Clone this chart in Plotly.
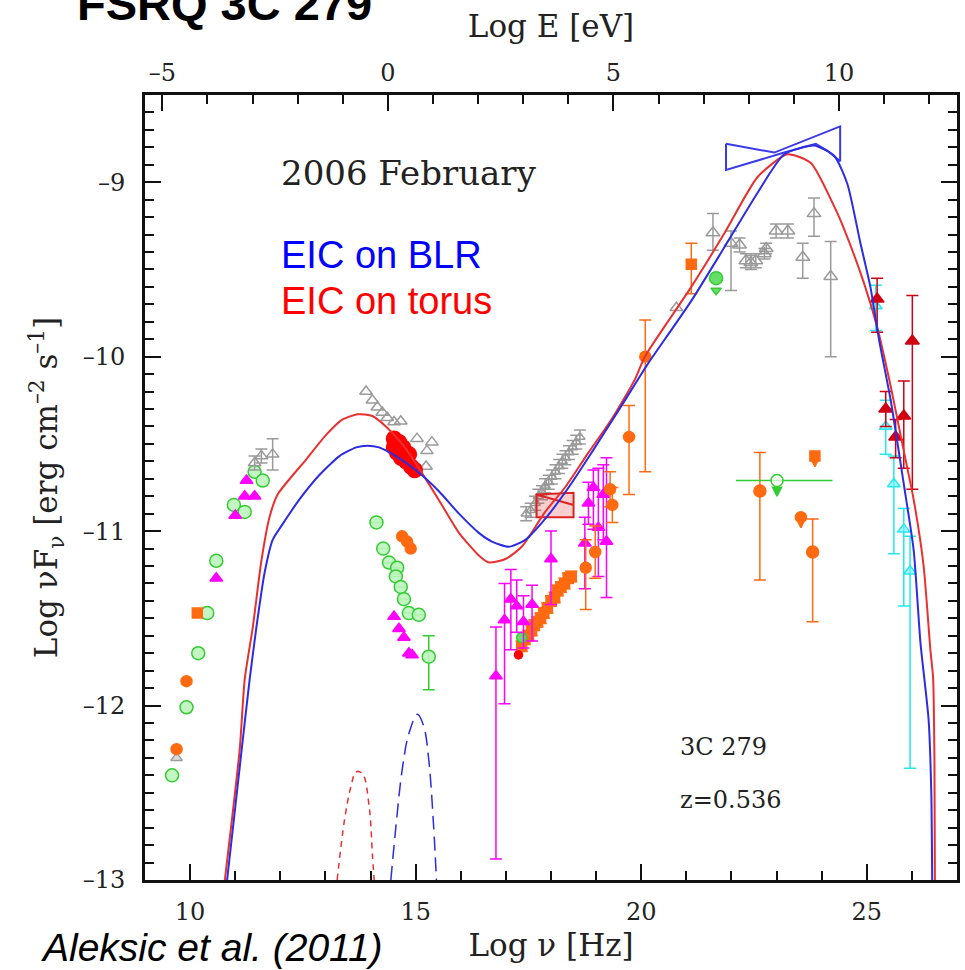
import plotly.graph_objects as go

# ---------------- data (log nu [Hz], log nuFnu [erg cm-2 s-1]) ----------------
# radio / mm / IR
radio_green_lv = [9.60, 9.92, 10.18, 10.38, 10.58, 10.97, 11.21, 11.43, 11.61]
radio_green_lf = [-12.40, -12.01, -11.70, -11.47, -11.17, -10.85, -10.89, -10.66, -10.71]
radio_orange_lv = [9.70, 9.92]
radio_orange_lf = [-12.25, -11.86]
radio_orange_sq_lv = [10.16]
radio_orange_sq_lf = [-11.47]
radio_gray_lv = [9.70]
radio_gray_lf = [-12.30]
ir_magenta_lv = [10.58, 11.00, 11.21, 11.43, 11.25]
ir_magenta_lf = [-11.27, -10.91, -10.80, -10.80, -10.71]
ir_gray_lv = [11.43, 11.58, 11.83]
ir_gray_lf = [-10.61, -10.57, -10.56]
ir_gray_err = [0.04, 0.04, 0.09]

# optical / UV
opt_gray_lv = [13.90, 14.04, 14.15, 14.26, 14.37, 14.52, 14.67, 15.03, 15.36, 15.25, 15.23]
opt_gray_lf = [-10.20, -10.25, -10.29, -10.32, -10.35, -10.375, -10.37, -10.47, -10.49, -10.54, -10.63]
opt_red_lv = [14.52, 14.63, 14.72, 14.59, 14.68, 14.79, 14.85, 14.90, 14.98, 14.52]
opt_red_lf = [-10.47, -10.49, -10.52, -10.55, -10.58, -10.60, -10.56, -10.63, -10.65, -10.52]
opt_green_lv = [14.13, 14.28, 14.41, 14.59, 14.56, 14.67, 14.74, 14.85, 15.07, 15.29]
opt_green_lf = [-10.95, -11.10, -11.18, -11.21, -11.26, -11.32, -11.39, -11.47, -11.48, -11.72]
opt_green_err_p = [0, 0, 0, 0, 0, 0, 0, 0, 0, 0.12]
opt_green_err_m = [0, 0, 0, 0, 0, 0, 0, 0, 0, 0.19]
opt_orange_lv = [14.70, 14.81, 14.89]
opt_orange_lf = [-11.03, -11.06, -11.10]
opt_magenta_lv = [14.52, 14.63, 14.74, 14.85, 14.92]
opt_magenta_lf = [-11.49, -11.56, -11.61, -11.70, -11.71]

# X-rays
xr_gray_lv = [17.45, 17.55, 17.65, 17.72, 17.80, 17.87, 17.95, 18.02, 18.10, 18.18, 18.25, 18.32, 18.40, 18.48, 18.56, 18.64]
xr_gray_lf = [-10.90, -10.88, -10.84, -10.80, -10.78, -10.74, -10.72, -10.69, -10.66, -10.63, -10.60, -10.58, -10.55, -10.52, -10.49, -10.46]
xr_box_lv = [17.68, 18.50, 18.50, 17.68, 17.68, 18.50]
xr_box_lf = [-10.79, -10.78, -10.92, -10.92, -10.79, -10.85]
xr_orange_lv = [17.35, 17.42, 17.50, 17.57, 17.63, 17.70, 17.77, 17.84, 17.92, 18.00, 18.08, 18.15, 18.22, 18.30, 18.38, 18.45]
xr_orange_lf = [-11.66, -11.62, -11.60, -11.57, -11.54, -11.52, -11.50, -11.47, -11.44, -11.40, -11.38, -11.34, -11.32, -11.30, -11.27, -11.26]
xr_red_lv = [17.28]
xr_red_lf = [-11.71]
xr_green_lv = [17.35]
xr_green_lf = [-11.61]
xr_magenta_lv = [16.78, 16.97, 17.11, 17.24, 17.39, 17.58, 18.00, 18.75, 18.83, 18.94, 19.05, 19.16, 19.23]
xr_magenta_lf = [-11.83, -11.51, -11.39, -11.43, -11.52, -11.42, -11.16, -11.07, -10.84, -10.75, -10.98, -10.79, -11.06]
xr_magenta_ep = [0.28, 0.21, 0.17, 0.15, 0.15, 0.11, 0.16, 0.15, 0.12, 0.10, 0.34, 0.17, 0.48]
xr_magenta_em = [1.05, 0.48, 0.29, 0.15, 0.15, 0.21, 0.26, 0.26, 0.12, 0.24, 0.28, 0.26, 0.32]
hx_orange_lv = [18.77, 18.98, 19.31, 19.36, 19.73, 20.09]
hx_orange_lf = [-11.21, -11.12, -10.76, -10.85, -10.46, -10.00]
hx_orange_ep = [0.16, 0.15, 0.10, 0.10, 0.18, 0.21]
hx_orange_em = [0.24, 0.15, 0.10, 0.10, 0.33, 0.66]
mev_orange_sq_lv = [21.11]
mev_orange_sq_lf = [-9.47]
mev_gray_lv = [20.78]
mev_gray_lf = [-9.72]
mev_green_ul_lv = [21.66]
mev_green_ul_lf = [-9.55]

# gamma rays (GeV)
gev_gray_lv = [21.59, 21.99, 22.18, 22.32, 22.43, 22.54, 22.73, 22.77, 22.99, 23.25, 23.58, 23.83, 24.20]
gev_gray_lf = [-9.29, -9.35, -9.36, -9.45, -9.46, -9.45, -9.41, -9.38, -9.28, -9.28, -9.43, -9.18, -9.54]
gev_gray_ep = [0.11, 0.07, 0.04, 0.04, 0.04, 0.04, 0.03, 0.03, 0.04, 0.04, 0.08, 0.09, 0.20]
gev_gray_em = [0.10, 0.27, 0.04, 0.04, 0.04, 0.04, 0.03, 0.03, 0.04, 0.04, 0.12, 0.13, 0.46]
bowtie_lv = [21.88, 22.95, 24.41, 24.41, 24.13, 23.87, 23.17, 21.88, 21.88]
bowtie_lf = [-8.78, -8.83, -8.68, -8.88, -8.82, -8.78, -8.83, -8.93, -8.78]
gev_orange_lv = [22.63, 23.80]
gev_orange_lf = [-10.77, -11.12]
gev_orange_ep = [0.22, 0.19]
gev_orange_em = [0.51, 0.40]
gev_orange_ul_lv = [23.54]
gev_orange_ul_lf = [-10.92]
gev_orange_sq_ul_lv = [23.85]
gev_orange_sq_ul_lf = [-10.57]
gev_green_ul_lv = [23.01]
gev_green_ul_lf = [-10.71]
gev_green_xm = [0.91]
gev_green_xp = [1.23]

# VHE
vhe_red_lv = [25.23, 25.42, 25.64, 25.82, 26.01]
vhe_red_lf = [-9.67, -10.30, -10.46, -10.34, -9.91]
vhe_red_ep = [0.12, 0.10, 0.10, 0.20, 0.26]
vhe_red_em = [0.19, 0.10, 0.12, 0.30, 0.85]
vhe_cyan_lv = [25.20, 25.42, 25.60, 25.82, 25.96]
vhe_cyan_lf = [-9.71, -10.40, -10.73, -10.99, -11.23]
vhe_cyan_ep = [0.12, 0.15, 0.16, 0.12, 0.20]
vhe_cyan_em = [0.14, 0.16, 0.40, 0.44, 1.13]

# models
torus_lv = [10.77, 11.10, 11.21, 11.39, 11.58, 11.76, 11.94, 12.57, 13.01, 13.38, 13.71, 14.04, 14.34, 14.70,
            15.00, 15.51, 15.96, 16.40, 16.62, 16.99, 17.35, 17.87, 18.31, 18.83, 19.34, 19.86, 20.08, 21.11,
            21.85, 22.58, 23.24, 23.76, 24.28, 24.50, 24.94, 25.23, 25.53, 25.82, 26.04, 26.26, 26.41, 26.47,
            26.50, 26.51]
torus_lf = [-13.0, -12.25, -11.85, -11.55, -11.17, -10.92, -10.79, -10.59, -10.45, -10.36, -10.33, -10.34, -10.40, -10.50,
            -10.61, -10.82, -11.01, -11.14, -11.18, -11.16, -11.09, -10.89, -10.75, -10.55, -10.36, -10.13, -10.00, -9.60,
            -9.29, -8.97, -8.84, -8.89, -9.14, -9.27, -9.58, -9.83, -10.17, -10.54, -10.82, -11.20, -11.68, -11.84,
            -12.31, -13.0]
blr_lv = [10.82, 11.14, 11.32, 11.47, 11.65, 11.83, 12.05, 12.42, 12.86, 13.31, 13.68, 13.93, 14.19, 14.56,
          15.00, 15.51, 15.96, 16.40, 16.69, 17.06, 17.43, 17.87, 18.39, 18.90, 19.42, 19.93, 20.15, 21.11,
          21.85, 22.58, 23.17, 23.83, 24.28, 24.57, 24.86, 25.08, 25.27, 25.53, 25.82, 26.04, 26.19, 26.37,
          26.43, 26.45]
blr_lf = [-13.0, -12.26, -11.85, -11.55, -11.24, -11.05, -10.96, -10.82, -10.68, -10.57, -10.52, -10.51, -10.52, -10.57,
          -10.65, -10.77, -10.90, -11.01, -11.06, -11.09, -11.05, -10.93, -10.75, -10.55, -10.34, -10.13, -10.04, -9.68,
          -9.37, -9.06, -8.84, -8.79, -8.85, -9.01, -9.35, -9.60, -9.90, -10.25, -10.73, -11.11, -11.64, -12.08,
          -12.50, -13.0]
torus_bb_lv = [13.26, 13.42, 13.56, 13.68, 13.82, 13.97, 14.04, 14.08]
torus_bb_lf = [-13.0, -12.66, -12.47, -12.38, -12.39, -12.58, -12.85, -13.0]
disk_lv = [14.45, 14.56, 14.70, 14.85, 15.04, 15.18, 15.29, 15.40, 15.46]
disk_lf = [-13.0, -12.70, -12.37, -12.16, -12.05, -12.12, -12.31, -12.70, -13.0]

# axes
x_range = [9, 27]
y_range = [-13, -8.5]
x_tickvals = [10, 15, 20, 25]
x_ticktext = ["10", "15", "20", "25"]
e_offset = 14.383  # log E[eV] = log nu[Hz] - 14.383
e_tickvals = [-5, 0, 5, 10]
e_ticktext = ["\u20135", "0", "5", "10"]
y_tickvals = [-13, -12, -11, -10, -9]
y_ticktext = ["\u201313", "\u201312", "\u201311", "\u201310", "\u20139"]

# ---------------- styles ----------------
GREEN = "#33cc33"
GREEN_FILL = "rgba(190,245,190,0.9)"
ORANGE = "#ff6a10"
MAGENTA = "#ff00ff"
GRAY = "#9a9a9a"
RED = "#ff0000"
DRED = "#d00010"
CYAN = "#20e8f0"
BLUE_C = "#2c2ce0"
RED_C = "#e83030"
SERIF = "DejaVu Serif"
INK = "#111"

fig = go.Figure()


def pts(x, y, symbol, color, size, fill=None, lw=1.5, ep=None, em=None, xp=None, xm=None, ecolor=None):
    marker = dict(symbol=symbol, size=size, color=fill if fill is not None else color,
                  line=dict(color=color, width=lw))
    kw = {}
    if ep is not None:
        kw["error_y"] = dict(type="data", symmetric=False, array=ep, arrayminus=em,
                             color=ecolor or color, thickness=1.5, width=6)
    if xp is not None:
        kw["error_x"] = dict(type="data", symmetric=False, array=xp, arrayminus=xm,
                             color=ecolor or color, thickness=1.5, width=0)
    fig.add_trace(go.Scatter(x=x, y=y, mode="markers", marker=marker, showlegend=False,
                             hoverinfo="skip", **kw))


# models first (behind points)
fig.add_trace(go.Scatter(x=torus_bb_lv, y=torus_bb_lf, mode="lines",
                         line=dict(color=RED_C, width=1.5, dash="6px,5px", shape="spline"),
                         showlegend=False, hoverinfo="skip"))
fig.add_trace(go.Scatter(x=disk_lv, y=disk_lf, mode="lines",
                         line=dict(color=BLUE_C, width=1.5, dash="14px,7px", shape="spline"),
                         showlegend=False, hoverinfo="skip"))

# data
pts(radio_gray_lv, radio_gray_lf, "triangle-up", GRAY, 10, fill="rgba(200,200,200,0.6)")
pts(radio_green_lv, radio_green_lf, "circle", GREEN, 13, fill=GREEN_FILL)
pts(radio_orange_lv, radio_orange_lf, "circle", ORANGE, 11)
pts(radio_orange_sq_lv, radio_orange_sq_lf, "square", ORANGE, 10)
pts(ir_magenta_lv, ir_magenta_lf, "triangle-up", MAGENTA, 11)
pts(ir_gray_lv, ir_gray_lf, "triangle-up-open", GRAY, 11, ep=ir_gray_err, em=ir_gray_err)

pts(opt_gray_lv, opt_gray_lf, "triangle-up-open", GRAY, 11)
pts(opt_green_lv, opt_green_lf, "circle", GREEN, 13, fill=GREEN_FILL, ep=opt_green_err_p, em=opt_green_err_m)
pts(opt_orange_lv, opt_orange_lf, "circle", ORANGE, 11)
pts(opt_magenta_lv, opt_magenta_lf, "triangle-up", MAGENTA, 11)
pts(opt_red_lv, opt_red_lf, "circle", RED, 15)

pts(xr_gray_lv, xr_gray_lf, "triangle-up-open", GRAY, 9, ep=[0.04] * len(xr_gray_lv), em=[0.04] * len(xr_gray_lv))
pts(xr_orange_lv, xr_orange_lf, "square", ORANGE, 10, ep=[0.03] * len(xr_orange_lv), em=[0.03] * len(xr_orange_lv))
pts(xr_red_lv, xr_red_lf, "circle", RED, 8)
pts(xr_green_lv, xr_green_lf, "circle", GREEN, 10, fill="#66dd66")
pts(xr_magenta_lv, xr_magenta_lf, "triangle-up", MAGENTA, 11, ep=xr_magenta_ep, em=xr_magenta_em)
pts(hx_orange_lv, hx_orange_lf, "circle", ORANGE, 11, ep=hx_orange_ep, em=hx_orange_em)
fig.add_trace(go.Scatter(x=xr_box_lv, y=xr_box_lf, mode="lines", fill="toself", fillcolor="rgba(230,60,60,0.25)",
                         line=dict(color="#dd2222", width=2), showlegend=False, hoverinfo="skip"))

pts(mev_orange_sq_lv, mev_orange_sq_lf, "square", ORANGE, 10, ep=[0.12], em=[0.17])
pts(mev_gray_lv, mev_gray_lf, "triangle-up-open", GRAY, 11)
pts(mev_green_ul_lv, mev_green_ul_lf, "circle", GREEN, 13, fill="#66dd66")
pts(mev_green_ul_lv, [v - 0.07 for v in mev_green_ul_lf], "triangle-down", GREEN, 9, fill="#66dd66")

pts(gev_gray_lv, gev_gray_lf, "triangle-up-open", GRAY, 12, ep=gev_gray_ep, em=gev_gray_em)
pts(gev_orange_lv, gev_orange_lf, "circle", ORANGE, 12, ep=gev_orange_ep, em=gev_orange_em)
pts(gev_orange_ul_lv, gev_orange_ul_lf, "circle", ORANGE, 11)
pts(gev_orange_ul_lv, [v - 0.06 for v in gev_orange_ul_lf], "arrow-down", ORANGE, 8)
pts(gev_orange_sq_ul_lv, gev_orange_sq_ul_lf, "square", ORANGE, 10)
pts(gev_orange_sq_ul_lv, [v - 0.06 for v in gev_orange_sq_ul_lf], "arrow-down", ORANGE, 8)
pts(gev_green_ul_lv, gev_green_ul_lf, "circle", GREEN, 12, fill="rgba(255,255,255,0.7)", xp=gev_green_xp, xm=gev_green_xm)
pts(gev_green_ul_lv, [v - 0.09 for v in gev_green_ul_lf], "arrow-down", GREEN, 9)

pts(vhe_cyan_lv, vhe_cyan_lf, "triangle-up", CYAN, 11, fill="rgba(120,240,250,0.6)", ep=vhe_cyan_ep, em=vhe_cyan_em)
pts(vhe_red_lv, vhe_red_lf, "triangle-up", DRED, 12, ep=vhe_red_ep, em=vhe_red_em)

fig.add_trace(go.Scatter(x=bowtie_lv, y=bowtie_lf, mode="lines", line=dict(color="#3a3ae8", width=2),
                         showlegend=False, hoverinfo="skip"))

fig.add_trace(go.Scatter(x=torus_lv, y=torus_lf, mode="lines",
                         line=dict(color=RED_C, width=2, shape="spline", smoothing=0.6),
                         showlegend=False, hoverinfo="skip"))
fig.add_trace(go.Scatter(x=blr_lv, y=blr_lf, mode="lines",
                         line=dict(color=BLUE_C, width=2, shape="spline", smoothing=0.6),
                         showlegend=False, hoverinfo="skip"))

# invisible traces that carry the extra (top energy / minor tick) axes
e_range = [x_range[0] - e_offset, x_range[1] - e_offset]
fig.add_trace(go.Scatter(x=e_range, y=[-20, -20], xaxis="x2", yaxis="y", mode="markers",
                         marker=dict(opacity=0), showlegend=False, hoverinfo="skip"))
fig.add_trace(go.Scatter(x=x_range, y=[-20, -20], xaxis="x3", yaxis="y2", mode="markers",
                         marker=dict(opacity=0), showlegend=False, hoverinfo="skip"))
fig.add_trace(go.Scatter(x=e_range, y=[-20, -20], xaxis="x4", yaxis="y3", mode="markers",
                         marker=dict(opacity=0), showlegend=False, hoverinfo="skip"))

tickfont = dict(family=SERIF, size=24, color="#222")
titlefont = dict(family=SERIF, size=31, color="#222")
minor_common = dict(showgrid=False, zeroline=False, showline=False, ticks="inside", ticklen=9, tickwidth=1.5,
                    tickcolor=INK, showticklabels=False, tickmode="linear")
fig.update_layout(
    width=965, height=970,
    margin=dict(l=145, r=5, t=95, b=90),
    paper_bgcolor="white", plot_bgcolor="white",
    xaxis=dict(range=x_range, showgrid=False, zeroline=False, showline=True, linewidth=3, linecolor=INK,
               mirror=True, ticks="inside", ticklen=16, tickwidth=2, tickcolor=INK,
               tickmode="array", tickvals=x_tickvals, ticktext=x_ticktext, tickfont=tickfont, ticklabelstandoff=8,
               title=dict(text="Log \u03bd [Hz]", font=titlefont, standoff=10)),
    xaxis2=dict(range=e_range, overlaying="x", side="top", anchor="y",
                showgrid=False, zeroline=False, showline=False, ticks="inside", ticklen=16, tickwidth=2,
                tickcolor=INK, tickmode="array", tickvals=e_tickvals, ticktext=e_ticktext, tickfont=tickfont,
                ticklabelstandoff=8, title=dict(text="Log E [eV]", font=titlefont, standoff=12)),
    xaxis3=dict(range=x_range, overlaying="x", side="bottom", anchor="y", tick0=0, dtick=1, **minor_common),
    xaxis4=dict(range=e_range, overlaying="x", side="top", anchor="y", tick0=0, dtick=1, **minor_common),
    yaxis=dict(range=y_range, showgrid=False, zeroline=False, showline=True, linewidth=3, linecolor=INK,
               mirror="ticks", ticks="inside", ticklen=16, tickwidth=2, tickcolor=INK,
               tickmode="array", tickvals=y_tickvals, ticktext=y_ticktext, tickfont=tickfont, ticklabelstandoff=12,
               title=dict(text="Log \u03bdF<sub>\u03bd</sub> [erg cm<sup>\u20132</sup> s<sup>\u20131</sup>]",
                          font=titlefont, standoff=16)),
    yaxis2=dict(range=y_range, overlaying="y", side="left", anchor="x", tick0=0, dtick=0.1, **minor_common),
    yaxis3=dict(range=y_range, overlaying="y", side="right", anchor="x", tick0=0, dtick=0.1, **minor_common),
)

ann = [
    dict(text="2006 February", x=11.98, y=-8.947, xref="x", yref="y", xanchor="left", yanchor="middle",
         font=dict(family=SERIF, size=34, color="#222")),
    dict(text="EIC on BLR", x=11.98, y=-9.42, xref="x", yref="y", xanchor="left", yanchor="middle",
         font=dict(family="Liberation Sans", size=38, color="#0000ff")),
    dict(text="EIC on torus", x=11.98, y=-9.68, xref="x", yref="y", xanchor="left", yanchor="middle",
         font=dict(family="Liberation Sans", size=38, color="#ff0000")),
    dict(text="3C 279", x=20.82, y=-12.24, xref="x", yref="y", xanchor="left", yanchor="middle",
         font=dict(family=SERIF, size=24, color="#222")),
    dict(text="z=0.536", x=20.82, y=-12.54, xref="x", yref="y", xanchor="left", yanchor="middle",
         font=dict(family=SERIF, size=24, color="#222")),
    dict(text="<b>FSRQ 3C 279</b>", x=-0.086, y=1.116, xref="paper", yref="paper", xanchor="left", yanchor="middle",
         font=dict(family="Liberation Sans", size=47, color="#000")),
    dict(text="<i>Aleksic et al. (2011)</i>", x=0.0822, y=-0.0866, xref="paper", yref="paper", xanchor="center",
         yanchor="middle", font=dict(family="Liberation Sans", size=39, color="#000")),
]
for a in ann:
    a["showarrow"] = False
    fig.add_annotation(**a)

fig.write_html("out.html")
